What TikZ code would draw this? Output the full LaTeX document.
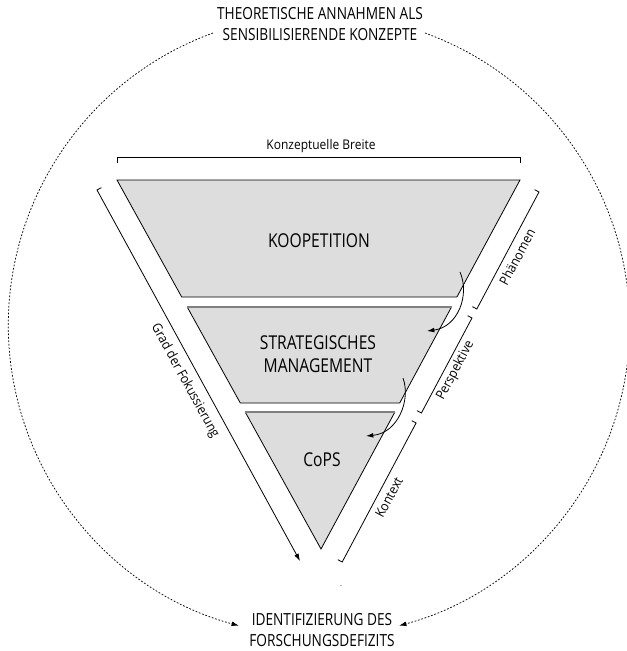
\documentclass[tikz,border=0pt]{standalone}
\usepackage{fontspec}
\setmainfont{Open Sans}[FakeStretch=0.82]
\newfontfamily\plainfont{Open Sans}
\usetikzlibrary{arrows.meta}
\definecolor{layergray}{HTML}{DDDDDD}
\newcommand{\sqz}[1]{\scalebox{0.9}[1]{#1}}
\tikzset{
  bigtxt/.style={font=\fontsize{12.5}{15.5}\selectfont, align=center, inner sep=0pt},
  midtxt/.style={font=\fontsize{14.3}{17.3}\selectfont, align=center, inner sep=0pt},
  smalltxt/.style={font=\plainfont\fontsize{10}{12}\selectfont, inner sep=0pt},
  edge/.style={line width=0.6pt, black},
  topedge/.style={line width=0.9pt, gray},
  bracket/.style={line width=0.6pt, black},
  tipA/.style={-{Latex[length=5.5pt,width=3.6pt]}},
  ring/.style={line width=0.55pt, dash pattern=on 1.3pt off 1.3pt, -{Latex[length=5.5pt,width=3.6pt]}},
}
\begin{document}
\begin{tikzpicture}[x=0.75pt,y=-0.75pt]
\useasboundingbox (0,0) rectangle (626,651);
% texts
\node[bigtxt] (theo) at (320,24) {THEORETISCHE ANNAHMEN ALS\\SENSIBILISIERENDE KONZEPTE};
\node[bigtxt] (ident) at (322,630) {IDENTIFIZIERUNG DES\\FORSCHUNGSDEFIZITS};
% dotted circle arcs
\coordinate (cc) at (320,325);
\draw[ring] (213,33) arc[start angle=-110, end angle=-255, radius=311];
\draw[ring] (425,33) arc[start angle=-70, end angle=75, radius=311];
% layers
\fill[layergray] (117,180) -- (520,180) -- (456.9,297) -- (181.7,297) -- cycle;
\draw[edge] (117,180) -- (520,180) -- (456.9,297) -- (181.7,297) -- cycle;
\fill[layergray] (187.2,307) -- (451.5,307) -- (399.7,403) -- (240.3,403) -- cycle;
\draw[edge] (451.5,307) -- (399.7,403) -- (240.3,403) -- (187.2,307);
\draw[topedge] (187.2,307) -- (451.5,307);
\fill[layergray] (245.2,412) -- (394.9,412) -- (321,549) -- cycle;
\draw[edge] (394.9,412) -- (321,549) -- (245.2,412);
\draw[topedge] (245.2,412) -- (394.9,412);
\node[midtxt] (koop) at (319,241) {KOOPETITION};
\node[midtxt] (strat) at (318,354) {STRATEGISCHES\\MANAGEMENT};
\node[midtxt] (cops) at (322,460) {CoPS};
% top bracket
\draw[bracket] (117,163) -- (117,157) -- (520,157) -- (520,163);
\node[smalltxt] (breite) at (321,146) {\sqz{Konzeptuelle Breite}};
% left arrow
\coordinate (la0) at (101.4,187.6);
\coordinate (la1) at (97,190);
\coordinate (la2) at (300,561);
\draw[bracket,tipA] (la0) -- (la1) -- (la2);
\node[smalltxt, rotate=-61.3] (grad) at (185,381) {\sqz{Grad der Fokussierung}};
% right brackets
\draw[bracket] (534.6,189.65) -- (539,192) -- (476.8,309) -- (472.4,306.65);
\draw[bracket] (467.6,315.65) -- (472.0,318) -- (421.4,413) -- (417.0,410.65);
\draw[bracket] (411.7,420.65) -- (416.1,423) -- (342.2,562) -- (337.8,559.65);
\node[smalltxt, rotate=62] (phaen) at (517,257) {\sqz{Phänomen}};
\node[smalltxt, rotate=62] (persp) at (455.5,370.5) {\sqz{Perspektive}};
\node[smalltxt, rotate=62] (kont) at (389,497.5) {\sqz{Kontext}};
% curved arrows
\draw[bracket,tipA] (460,272) .. controls (470,295) and (458,327) .. (427,331);
\draw[bracket,tipA] (403,378) .. controls (411,400) and (398,433) .. (366,436);
% small dot
\fill[black!60] (341,585.5) circle[radius=0.7];
\end{tikzpicture}
\end{document}
